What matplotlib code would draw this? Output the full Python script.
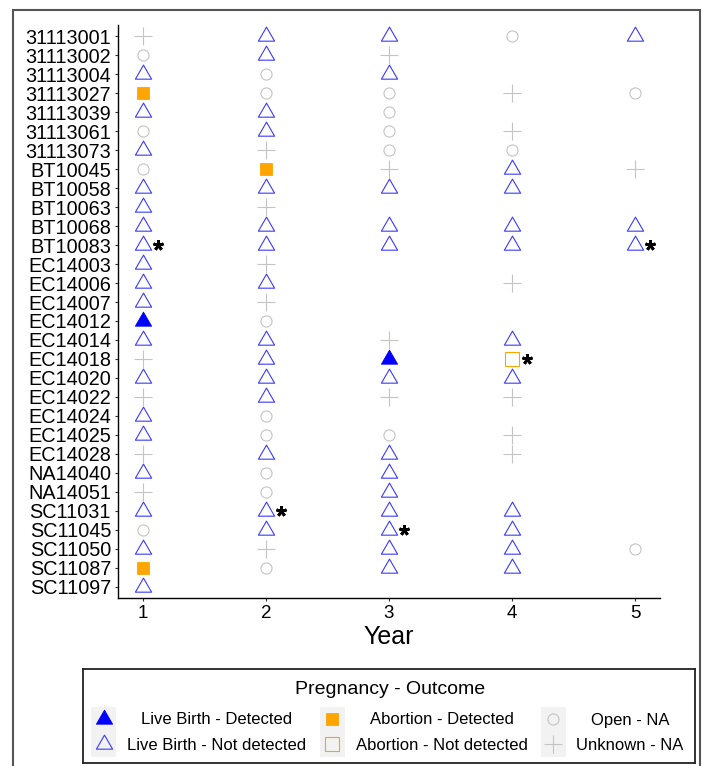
import matplotlib
matplotlib.use('Agg')
import matplotlib.pyplot as plt
import matplotlib.transforms as mtransforms
from matplotlib.patches import Rectangle
from matplotlib.path import Path

plt.rcParams['font.family'] = ['Liberation Sans', 'DejaVu Sans']

# ---------------- data ----------------
animals = ['31113001', '31113002', '31113004', '31113027', '31113039', '31113061',
           '31113073', 'BT10045', 'BT10058', 'BT10063', 'BT10068', 'BT10083',
           'EC14003', 'EC14006', 'EC14007', 'EC14012', 'EC14014', 'EC14018',
           'EC14020', 'EC14022', 'EC14024', 'EC14025', 'EC14028', 'NA14040',
           'NA14051', 'SC11031', 'SC11045', 'SC11050', 'SC11087', 'SC11097']
years = [1, 2, 3, 4, 5]

# LD = Live Birth - Detected, LN = Live Birth - Not detected,
# AD = Abortion - Detected, AN = Abortion - Not detected,
# O = Open - NA, U = Unknown - NA, '' = no record
year1 = ['U', 'O', 'LN', 'AD', 'LN', 'O', 'LN', 'O', 'LN', 'LN', 'LN', 'LN', 'LN', 'LN', 'LN',
         'LD', 'LN', 'U', 'LN', 'U', 'LN', 'LN', 'U', 'LN', 'U', 'LN', 'O', 'LN', 'AD', 'LN']
year2 = ['LN', 'LN', 'O', 'O', 'LN', 'LN', 'U', 'AD', 'LN', 'U', 'LN', 'LN', 'U', 'LN', 'U',
         'O', 'LN', 'LN', 'LN', 'LN', 'O', 'O', 'LN', 'O', 'O', 'LN', 'LN', 'U', 'O', '']
year3 = ['LN', 'U', 'LN', 'O', 'O', 'O', 'O', 'U', 'LN', '', 'LN', 'LN', '', '', '',
         '', 'U', 'LD', 'LN', 'U', '', 'O', 'LN', 'LN', 'LN', 'LN', 'LN', 'LN', 'LN', '']
year4 = ['O', '', '', 'U', '', 'U', 'O', 'LN', 'LN', '', 'LN', 'LN', '', 'U', '',
         '', 'LN', 'AN', 'LN', 'U', '', 'U', 'U', '', '', 'LN', 'LN', 'LN', 'LN', '']
year5 = ['LN', '', '', 'O', '', '', '', 'U', '', '', 'LN', 'LN', '', '', '',
         '', '', '', '', '', '', '', '', '', '', '', '', 'O', '', '']
outcomes_by_year = [year1, year2, year3, year4, year5]

starred_animals = ['BT10083', 'BT10083', 'EC14018', 'SC11031', 'SC11045']
starred_years = [1, 5, 4, 2, 3]

outcome_codes = ['LD', 'LN', 'AD', 'AN', 'O', 'U']
outcome_labels = ['Live Birth - Detected', 'Live Birth - Not detected',
                  'Abortion - Detected', 'Abortion - Not detected',
                  'Open - NA', 'Unknown - NA']

# ---------------- styles ----------------
tri = Path([(-1.0, -0.577), (1.0, -0.577), (0.0, 1.155), (-1.0, -0.577)],
           [Path.MOVETO, Path.LINETO, Path.LINETO, Path.CLOSEPOLY])
styles = {
    'LD': dict(marker=tri, ms=13.5, mfc='#0000FF', mec='#0000FF', mew=0.6),
    'LN': dict(marker=tri, ms=13.5, mfc='none', mec='#3a3aff', mew=0.8),
    'AD': dict(marker='s', ms=8.5, mfc='#FFA500', mec='#FFA500', mew=0.6),
    'AN': dict(marker='s', ms=9.5, mfc='none', mec='#FFA500', mew=0.8),
    'O': dict(marker='o', ms=8.0, mfc='none', mec='#c4c4c4', mew=0.8),
    'U': dict(marker='+', ms=12.5, mfc='none', mec='#c4c4c4', mew=0.8),
}

W, H = 702, 766
fig = plt.figure(figsize=(W / 100, H / 100), dpi=100)

def fx(px):
    return px / W

def fy(py):
    return 1 - py / H

ax = fig.add_axes([fx(118), fy(598), fx(660) - fx(118), fy(25) - fy(598)])

ypos = {a: i for i, a in enumerate(animals)}
for code in outcome_codes:
    xs, ys = [], []
    for yr, col in zip(years, outcomes_by_year):
        for a, v in zip(animals, col):
            if v == code:
                xs.append(yr)
                ys.append(ypos[a])
    ax.plot(xs, ys, linestyle='none', **styles[code])

# asterisks: offset in display space to the right of the marker
off = mtransforms.offset_copy(ax.transData, fig=fig, x=15, y=0, units='dots')
ax.plot(starred_years, [ypos[a] for a in starred_animals], linestyle='none',
        marker=(5, 2, 0), ms=7.5, mec='black', mew=2.0, transform=off, clip_on=False)

ax.set_xlim(0.8, 5.2)
ax.set_ylim(len(animals) - 0.4, -0.6)
ax.set_xticks(years)
ax.set_xticklabels([str(y) for y in years])
ax.set_yticks(range(len(animals)))
ax.set_yticklabels(animals)
for s in ['top', 'right']:
    ax.spines[s].set_visible(False)
for s in ['left', 'bottom']:
    ax.spines[s].set_linewidth(1.0)
    ax.spines[s].set_color('black')
ax.tick_params(axis='both', length=2.5, width=0.8, color='#333333', pad=2.5,
               labelsize=14.3, labelcolor='black')
ax.tick_params(axis='x', labelsize=13.5)
ax.set_xlabel('Year', fontsize=18, labelpad=2)

# ---------------- outer border ----------------
fig.patches.append(Rectangle((fx(13), fy(790)), fx(700) - fx(13), fy(10) - fy(790),
                             transform=fig.transFigure, fill=False,
                             edgecolor='#555555', lw=1.5, zorder=0))

# ---------------- legend (drawn in pixel coordinates of the box) ----------------
bx0, by0, bx1, by1 = 83, 669, 695, 763
lax = fig.add_axes([fx(bx0), fy(by1), fx(bx1) - fx(bx0), fy(by0) - fy(by1)])
lax.set_xlim(bx0, bx1)
lax.set_ylim(by1, by0)
lax.set_xticks([])
lax.set_yticks([])
for s in lax.spines.values():
    s.set_linewidth(1.3)
    s.set_color('#222222')

lax.text((bx0 + bx1) / 2 + 1, 689, 'Pregnancy - Outcome', ha='center', va='center', fontsize=14)
key_x = [104, 332, 553]
lab_x = [217, 442, 630]
row_y = [719, 744]
for i, (code, lab) in enumerate(zip(outcome_codes, outcome_labels)):
    c, r = i // 2, i % 2
    lax.add_patch(Rectangle((key_x[c] - 12.5, row_y[r] - 12.5), 25, 25,
                            facecolor='#F2F2F2', edgecolor='none'))
    lax.plot([key_x[c]], [row_y[r]], linestyle='none', **styles[code])
    lax.text(lab_x[c], row_y[r] + 1, lab, ha='center', va='center', fontsize=12)

fig.savefig('out.png', dpi=100)
